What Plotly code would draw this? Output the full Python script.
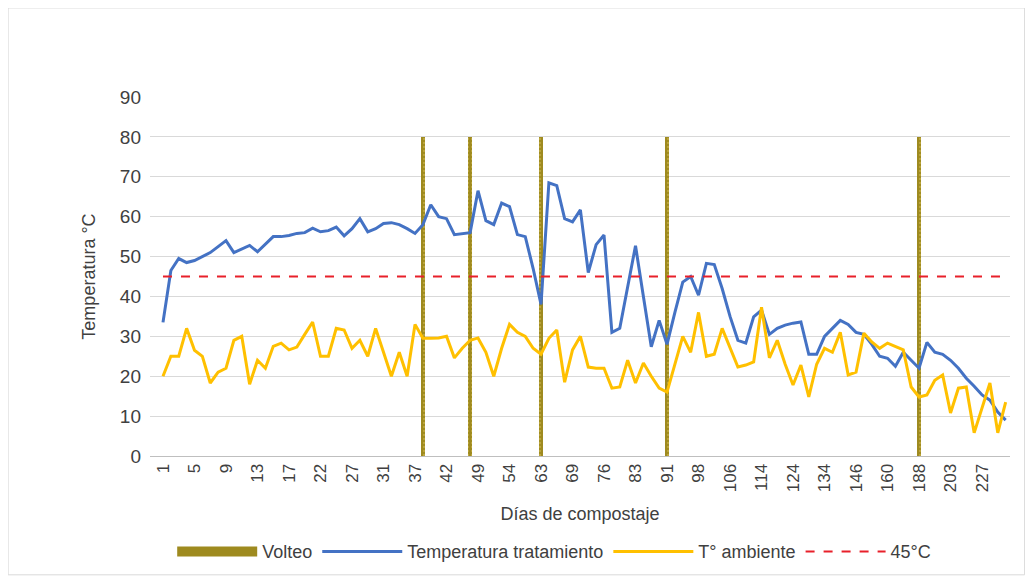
import plotly.graph_objects as go

# dias de compostaje (categorias del eje x)
dias = [1, 2, 3, 4, 5, 6, 7, 8, 9, 10,
        11, 12, 13, 14, 15, 16, 17, 18, 19, 21,
        22, 23, 24, 26, 27, 28, 29, 30, 31, 32,
        34, 35, 37, 38, 39, 41, 42, 44, 46, 48,
        49, 50, 52, 53, 54, 56, 59, 61, 63, 64,
        66, 67, 69, 70, 72, 74, 76, 77, 79, 81,
        83, 85, 87, 89, 91, 92, 94, 96, 98, 100,
        102, 104, 106, 108, 110, 112, 114, 116, 119, 121,
        124, 126, 129, 131, 134, 137, 140, 143, 146, 149,
        153, 156, 160, 167, 174, 181, 188, 192, 195, 199,
        203, 209, 215, 221, 227, 233, 239, 245]

temp_tratamiento = [33.5, 46.5, 49.5, 48.5, 49, 50, 51, 52.5, 54, 51,
                    52, 52.8, 51.2, 53, 55, 55, 55.3, 55.8, 56, 57.1,
                    56.2, 56.5, 57.4, 55.2, 57, 59.5, 56.2, 57, 58.3, 58.5,
                    58, 57, 55.8, 58, 63, 60, 59.5, 55.5, 55.8, 56,
                    66.5, 59, 58, 63.4, 62.5, 55.5, 55, 47, 38, 68.5,
                    67.8, 59.5, 58.7, 61.7, 46, 53, 55.4, 31, 32, 42,
                    52.7, 40, 27.4, 34, 28, 36, 43.6, 45, 40.3, 48.3,
                    48, 42, 35, 29, 28.3, 34.9, 36.6, 30.5, 32, 32.8,
                    33.3, 33.6, 25.5, 25.5, 30, 32, 34, 33, 31, 30.5,
                    28, 25, 24.5, 22.5, 26, 24, 22, 28.5, 26, 25.5,
                    24, 22, 19.5, 17.5, 15.3, 14, 11, 9]

temp_ambiente = [20, 25, 25, 32, 26.5, 25, 18.3, 21, 22, 29,
                 30, 18, 24, 22, 27.5, 28.3, 26.6, 27.3, 30.5, 33.6,
                 25, 25, 32, 31.6, 27, 29, 25, 32, 26, 20,
                 26, 20, 33, 29.5, 29.5, 29.6, 30, 24.6, 27, 29,
                 29.6, 26, 20, 27, 33, 31, 30, 27, 25.5, 29.5,
                 31.6, 18.5, 26.6, 30, 22.3, 22, 22, 17, 17.3, 24,
                 18.3, 23.3, 20, 17, 16, 23, 30, 26, 36, 25,
                 25.5, 32, 27, 22.3, 22.8, 23.6, 37.3, 24.6, 29, 23,
                 17.8, 22.8, 14.8, 23, 27, 26, 31, 20.3, 21, 30.8,
                 28.6, 27, 28.3, 27.5, 26.6, 17.3, 14.8, 15.3, 19, 20.3,
                 10.8, 17, 17.3, 5.8, 12, 18.3, 5.8, 13.5]

# dias de volteo
volteo_dias = [38, 48, 63, 91, 188]
volteo_altura = [80, 80, 80, 80, 80]

umbral = 45

x_cat = [str(d) for d in dias]
color_volteo = "#9E8A1F"

fig = go.Figure()

fig.add_trace(go.Bar(
    x=[str(d) for d in volteo_dias], y=volteo_altura, name="Volteo",
    width=0.5, showlegend=False, legendgroup="volteo",
    marker=dict(color=color_volteo, line=dict(width=0),
                pattern=dict(shape=".", fgcolor="#D9C25A", size=4, solidity=0.25)),
))
# entrada de leyenda para volteo (bloque ancho)
fig.add_trace(go.Scatter(
    x=[None], y=[None], mode="lines", name="Volteo", legendgroup="volteo",
    line=dict(color=color_volteo, width=12),
))
fig.add_trace(go.Scatter(
    x=x_cat, y=temp_tratamiento, mode="lines", name="Temperatura tratamiento",
    line=dict(color="#4472C4", width=3),
))
fig.add_trace(go.Scatter(
    x=x_cat, y=temp_ambiente, mode="lines", name="T° ambiente",
    line=dict(color="#FFC000", width=3),
))
fig.add_trace(go.Scatter(
    x=x_cat, y=[umbral] * len(x_cat), mode="lines", name="45°C",
    line=dict(color="#E8202A", width=2, dash="dash"),
))

fig.update_layout(
    width=1033, height=579,
    paper_bgcolor="white", plot_bgcolor="white",
    margin=dict(l=142, r=31, t=89, b=131, autoexpand=False),
    font=dict(family="Liberation Sans, Arial, sans-serif", color="#404040", size=18),
    showlegend=True,
    legend=dict(orientation="h", x=0.47, xanchor="center", y=-0.215, yanchor="top",
                font=dict(size=18, color="#404040"), traceorder="normal",
                itemwidth=80),
    bargap=0,
)

fig.update_xaxes(
    type="category", categoryorder="array", categoryarray=x_cat,
    range=[-1.65, 107.55], automargin=False,
    tickmode="array", tickvals=x_cat[::4], ticktext=x_cat[::4],
    tickangle=-90, tickfont=dict(size=17, color="#404040"),
    showgrid=False, showline=True, linecolor="#BFBFBF", linewidth=1,
    ticks="", title=dict(text="Días de compostaje", font=dict(size=18, color="#404040"), standoff=16),
)
fig.update_yaxes(
    range=[0, 90], dtick=10, tick0=0, automargin=False,
    showgrid=True, gridcolor="#D9D9D9", gridwidth=1,
    zeroline=False, showline=False,
    tickfont=dict(size=19, color="#404040"), ticklabelstandoff=8,
    title=dict(text="Temperatura °C", font=dict(size=18, color="#404040"), standoff=19),
)

# marco del grafico
fig.add_shape(type="rect", xref="paper", yref="paper",
              x0=-0.165, x1=1.017, y0=-0.331, y1=1.248,
              line=dict(color="#D9D9D9", width=1), fillcolor="rgba(0,0,0,0)", layer="below")

fig.write_html("out.html")
